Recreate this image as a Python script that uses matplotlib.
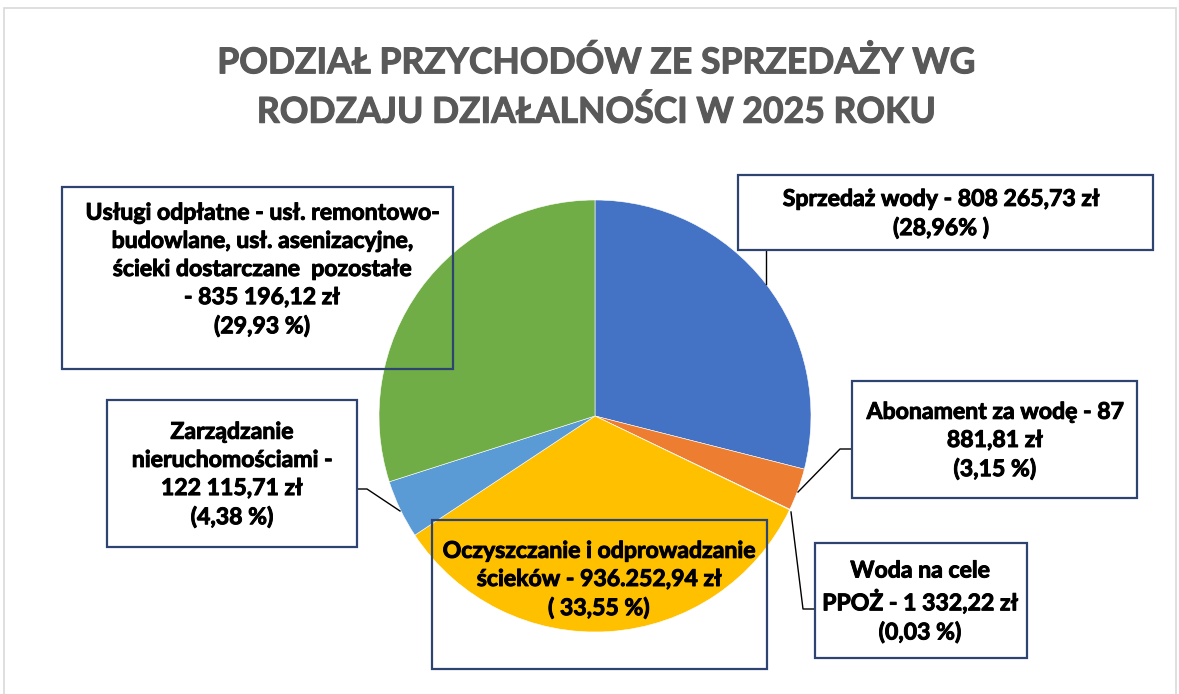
import matplotlib
matplotlib.use("Agg")
import matplotlib.pyplot as plt
from matplotlib.patches import Rectangle
import matplotlib.patheffects as pe

# ---- data ----
categories = [
    "Sprzedaż wody",
    "Abonament za wodę",
    "Woda na cele PPOŻ",
    "Oczyszczanie i odprowadzanie ścieków",
    "Zarządzanie nieruchomościami",
    "Usługi odpłatne",
]
values = [808265.73, 87881.81, 1332.22, 936252.94, 122115.71, 835196.12]
label_texts = [
    "Sprzedaż wody - 808 265,73 zł\n(28,96% )",
    "Abonament za wodę - 87\n881,81 zł\n(3,15 %)",
    "Woda na cele\nPPOŻ - 1 332,22 zł\n(0,03 %)",
    "Oczyszczanie i odprowadzanie\nścieków - 936.252,94 zł\n( 33,55 %)",
    "Zarządzanie\nnieruchomościami -\n122 115,71 zł\n(4,38 %)",
    "Usługi odpłatne - usł. remontowo-\nbudowlane, usł. asenizacyjne,\nścieki dostarczane  pozostałe\n- 835 196,12 zł\n(29,93 %)",
]
title = "PODZIAŁ PRZYCHODÓW ZE SPRZEDAŻY WG\nRODZAJU DZIAŁALNOŚCI W 2025 ROKU"

colors = ["#4472C4", "#ED7D31", "#A5A5A5", "#FFC000", "#5B9BD5", "#70AD47"]

W, H = 1179, 694
plt.rcParams['font.family'] = ['Lato', 'DejaVu Sans']

fig = plt.figure(figsize=(W / 100, H / 100), dpi=100)
ax = fig.add_axes([0, 0, 1, 1])

def Y(y):
    return H - y

ax.pie(values, colors=colors, startangle=90, counterclock=False,
       center=(595, Y(416)), radius=216, frame=True,
       wedgeprops=dict(edgecolor='white', linewidth=0.4))
ax.set_xlim(0, W)
ax.set_ylim(0, H)
ax.set_aspect('auto')
ax.axis('off')

# outer chart frame
ax.add_patch(Rectangle((4, Y(700)), 1172, 692, fill=False, ec='#D9D9D9', lw=1.2))

# title
ax.text(596, Y(87), title, ha='center', va='center', fontsize=25.6,
        fontweight='bold', color='#595959', linespacing=1.55,
        path_effects=[pe.withStroke(linewidth=0.8, foreground='#595959')])

# label boxes (x0, y0, x1, y1 in px from top) and text centres
boxes = [
    (738, 175, 1153, 250),
    (852, 381, 1137, 498),
    (815, 543, 1027, 658),
    (432, 520, 767, 669),
    (107, 400, 357, 547),
    (62, 187, 453, 369),
]
centres = [
    (941, 214),
    (995, 441),
    (920, 602),
    (599, 580),
    (232, 475),
    (262, 270),
]
box_col = '#2E4470'
for (x0, y0, x1, y1), (cx, cy), txt in zip(boxes, centres, label_texts):
    ax.add_patch(Rectangle((x0, Y(y1)), x1 - x0, y1 - y0, fill=False,
                           ec=box_col, lw=1.6, zorder=5))
    ax.text(cx, Y(cy), txt, ha='center', va='center', fontsize=16.6,
            fontweight='bold', color='black', linespacing=1.42, zorder=6,
            path_effects=[pe.withStroke(linewidth=0.7, foreground='black')])

# leader lines
leaders = [
    [(766, 250), (766, 284)],
    [(852, 449), (840, 449), (798, 492)],
    [(815, 609), (803, 609), (791, 512)],
    [(357, 489), (367, 489), (400, 511)],
]
for pts in leaders:
    xs = [p[0] for p in pts]
    ys = [Y(p[1]) for p in pts]
    ax.plot(xs, ys, color='black', lw=1.0, zorder=4)

fig.savefig("out.png", dpi=100)
